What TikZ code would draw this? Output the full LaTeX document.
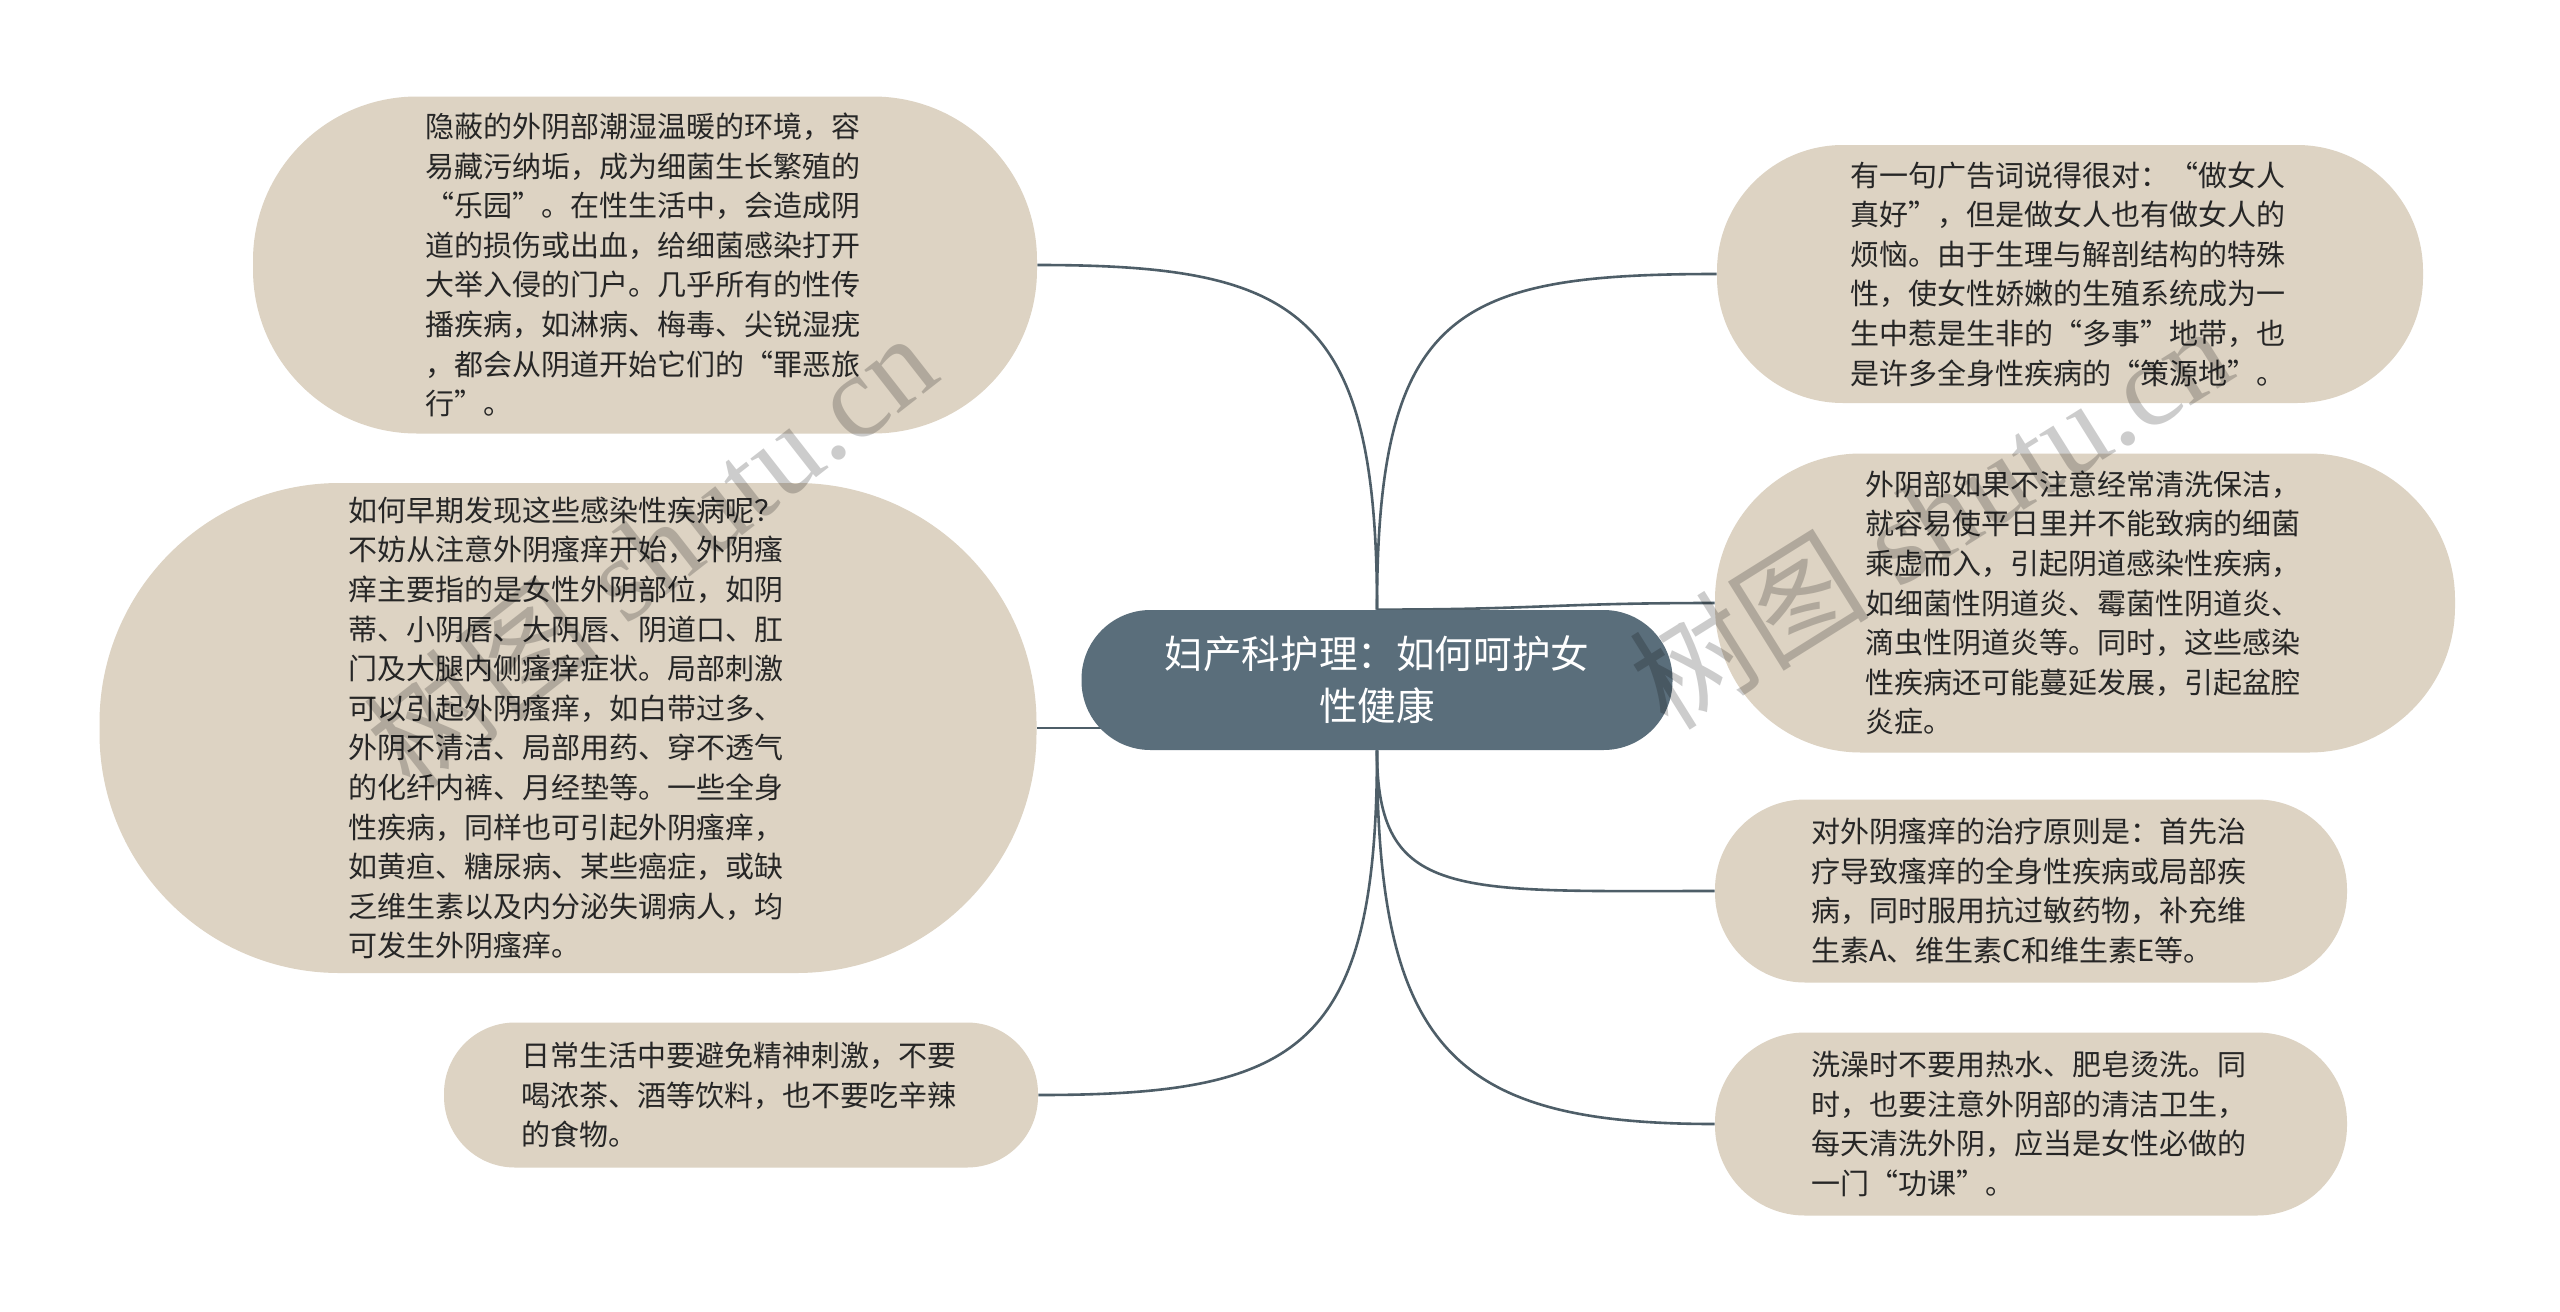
\documentclass[tikz,border=0pt]{standalone}
\usepackage{fontspec}
\usetikzlibrary{backgrounds}
\newfontfamily\cjk{Noto Sans CJK SC}
\newfontfamily\wmfont{Liberation Serif}
\definecolor{leaf}{HTML}{DDD3C3}
\definecolor{rootc}{HTML}{5A6E7B}
\definecolor{linec}{HTML}{4E5E68}
\definecolor{txt}{HTML}{262626}
\begin{document}
\begin{tikzpicture}[x=0.5pt,y=-0.5pt,
  conn/.style={draw=linec, line width=1.3pt},
  leafbox/.style={rectangle, fill=leaf, text=txt, inner sep=0pt, align=left, text width=220pt,
    font=\cjk\fontsize{14.5pt}{19.8pt}\selectfont},
  rootbox/.style={rectangle, fill=rootc, text=white, inner sep=0pt, align=center,
    font=\cjk\fontsize{19.3pt}{26pt}\selectfont, minimum width=295.5pt, minimum height=70pt, rounded corners=34.5pt},
  wm/.style={text=black, text opacity=0.2, font=\wmfont\fontsize{60pt}{60pt}\selectfont, inner sep=0pt}
]
\useasboundingbox (0,0) rectangle (2560,1312);

% nodes
\node[rootbox] (c) at (1377,680) {妇产科护理：如何呵护女\\性健康};

\node[leafbox, minimum width=392pt, minimum height=168.5pt, rounded corners=82pt] (L1) at (645,265) {隐蔽的外阴部潮湿温暖的环境，容\\易藏污纳垢，成为细菌生长繁殖的\\“乐园”。在性生活中，会造成阴\\道的损伤或出血，给细菌感染打开\\大举入侵的门户。几乎所有的性传\\播疾病，如淋病、梅毒、尖锐湿疣\\，都会从阴道开始它们的“罪恶旅\\行”。};

\node[leafbox, minimum width=468.5pt, minimum height=245pt, rounded corners=120pt] (L2) at (568,728) {如何早期发现这些感染性疾病呢？\\不妨从注意外阴瘙痒开始，外阴瘙\\痒主要指的是女性外阴部位，如阴\\蒂、小阴唇、大阴唇、阴道口、肛\\门及大腿内侧瘙痒症状。局部刺激\\可以引起外阴瘙痒，如白带过多、\\外阴不清洁、局部用药、穿不透气\\的化纤内裤、月经垫等。一些全身\\性疾病，同样也可引起外阴瘙痒，\\如黄疸、糖尿病、某些癌症，或缺\\乏维生素以及内分泌失调病人，均\\可发生外阴瘙痒。};

\node[leafbox, minimum width=297pt, minimum height=72.5pt, rounded corners=35.5pt] (L3) at (741,1095) {日常生活中要避免精神刺激，不要\\喝浓茶、酒等饮料，也不要吃辛辣\\的食物。};

\node[leafbox, minimum width=353pt, minimum height=129pt, rounded corners=63pt] (R1) at (2070,274) {有一句广告词说得很对：“做女人\\真好”，但是做女人也有做女人的\\烦恼。由于生理与解剖结构的特殊\\性，使女性娇嫩的生殖系统成为一\\生中惹是生非的“多事”地带，也\\是许多全身性疾病的“策源地”。};

\node[leafbox, minimum width=370pt, minimum height=149.5pt, rounded corners=73pt] (R2) at (2085,603) {外阴部如果不注意经常清洗保洁，\\就容易使平日里并不能致病的细菌\\乘虚而入，引起阴道感染性疾病，\\如细菌性阴道炎、霉菌性阴道炎、\\滴虫性阴道炎等。同时，这些感染\\性疾病还可能蔓延发展，引起盆腔\\炎症。};

\node[leafbox, minimum width=316pt, minimum height=91.5pt, rounded corners=45pt] (R3) at (2031,891) {对外阴瘙痒的治疗原则是：首先治\\疗导致瘙痒的全身性疾病或局部疾\\病，同时服用抗过敏药物，补充维\\生素A、维生素C和维生素E等。};

\node[leafbox, minimum width=316pt, minimum height=91.5pt, rounded corners=45pt] (R4) at (2031,1124) {洗澡时不要用热水、肥皂烫洗。同\\时，也要注意外阴部的清洁卫生，\\每天清洗外阴，应当是女性必做的\\一门“功课”。};

% background + connectors (behind nodes)
\begin{scope}[on background layer]
\fill[white] (0,0) rectangle (2560,1312);
\draw[conn] (c.north) .. controls +(0,-300) and +(260,0) .. (L1.east);
\draw[conn] (L2.east) -- (L2.east -| c.center);
\draw[conn] (c.south) .. controls +(0,300) and +(260,0) .. (L3.east);
\draw[conn] (c.north) .. controls +(0,-300) and +(-260,0) .. (R1.west);
\draw[conn] (c.north) .. controls +(160,0) and +(-160,0) .. (R2.west);
\draw[conn] (c.south) .. controls +(0,150) and +(-260,0) .. (R3.west);
\draw[conn] (c.south) .. controls +(0,300) and +(-260,0) .. (R4.west);
\end{scope}

% watermarks
\node[wm, rotate=38] (wm1) at (650,550) {{\cjk 树图} shutu.cn};
\node[wm, rotate=32] (wm2) at (1930,515) {{\cjk 树图} shutu.cn};
\end{tikzpicture}
\end{document}
